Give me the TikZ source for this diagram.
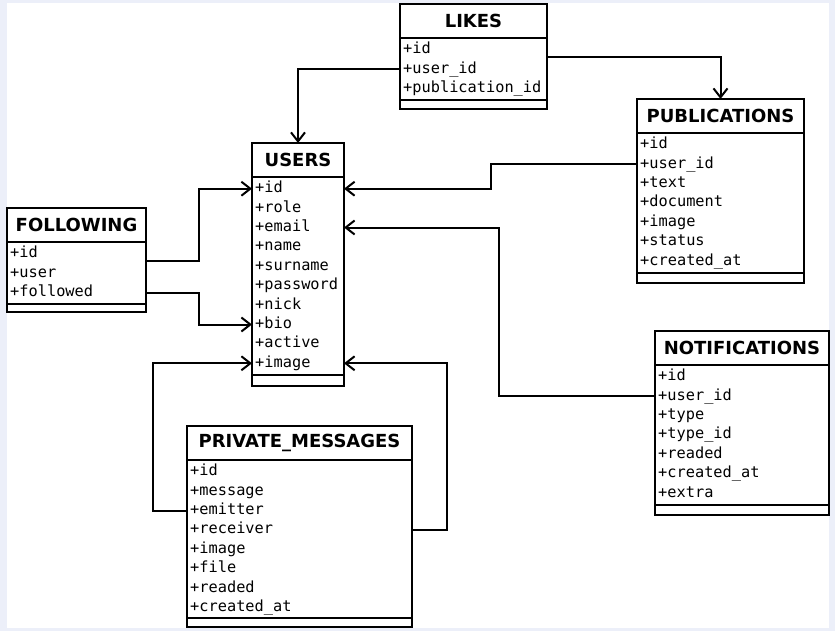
\documentclass[tikz,border=0pt]{standalone}
\usepackage{fontspec}
\usetikzlibrary{arrows.meta}
\newfontfamily\attrfont{DejaVu Sans Mono}
\newfontfamily\headfont{DejaVu Sans}
\definecolor{erframe}{RGB}{236,239,249}

\begin{document}
\begin{tikzpicture}[x=1pt, y=-1pt,
  ent/.style={draw, line width=2pt, fill=white, inner sep=0pt, outer sep=0pt},
  head/.style={ent, minimum height=34, font=\fontsize{18}{20}\selectfont\headfont\bfseries},
  body/.style={ent, anchor=north},
  foot/.style={ent, anchor=north, minimum height=10},
  attr/.style={anchor=west, inner sep=0pt, text height=11.5pt, text depth=3.5pt, font=\fontsize{15.3}{18}\selectfont\attrfont},
  link/.style={line width=2pt, -{Straight Barb[length=9pt, width=14pt]}}]
% frame of the screenshot
\useasboundingbox (0,0) rectangle (835,631);
\fill[erframe] (0,0) rectangle (835,631);
\fill[white] (7,3) rectangle (829,628);

% LIKES
\node[head, minimum width=147, anchor=north west] (likes) at (400,4) {LIKES};
\node[body, minimum width=147, minimum height=62] (likes-body) at (likes.south) {};
\node[foot, minimum width=147, minimum height=9] (likes-foot) at (likes-body.south) {};
\foreach \a [count=\i] in {id,user\_id,publication\_id}
  \node[attr] (likes-\i) at ([xshift=3, yshift={-2-19.4*(\i-0.5)}]likes-body.north west) {+\a};

% USERS
\node[head, minimum width=92, anchor=north west] (users) at (252,143) {USERS};
\node[body, minimum width=92, minimum height=198] (users-body) at (users.south) {};
\node[foot, minimum width=92, minimum height=11] (users-foot) at (users-body.south) {};
\foreach \a [count=\i] in {id,role,email,name,surname,password,nick,bio,active,image}
  \node[attr] (users-\i) at ([xshift=3, yshift={-2-19.4*(\i-0.5)}]users-body.north west) {+\a};

% FOLLOWING
\node[head, minimum width=139, anchor=north west] (following) at (7,208) {FOLLOWING};
\node[body, minimum width=139, minimum height=62] (following-body) at (following.south) {};
\node[foot, minimum width=139, minimum height=8] (following-foot) at (following-body.south) {};
\foreach \a [count=\i] in {id,user,followed}
  \node[attr] (following-\i) at ([xshift=3, yshift={-2-19.4*(\i-0.5)}]following-body.north west) {+\a};

% PUBLICATIONS
\node[head, minimum width=167, anchor=north west] (publications) at (637,99) {PUBLICATIONS};
\node[body, minimum width=167, minimum height=140] (publications-body) at (publications.south) {};
\node[foot, minimum width=167] (publications-foot) at (publications-body.south) {};
\foreach \a [count=\i] in {id,user\_id,text,document,image,status,created\_at}
  \node[attr] (publications-\i) at ([xshift=3, yshift={-2-19.4*(\i-0.5)}]publications-body.north west) {+\a};

% NOTIFICATIONS
\node[head, minimum width=174, anchor=north west] (notifications) at (655,331) {NOTIFICATIONS};
\node[body, minimum width=174, minimum height=140] (notifications-body) at (notifications.south) {};
\node[foot, minimum width=174] (notifications-foot) at (notifications-body.south) {};
\foreach \a [count=\i] in {id,user\_id,type,type\_id,readed,created\_at,extra}
  \node[attr] (notifications-\i) at ([xshift=3, yshift={-2-19.4*(\i-0.5)}]notifications-body.north west) {+\a};

% PRIVATE_MESSAGES
\node[head, minimum width=225, anchor=north west] (messages) at (187,426) {PRIVATE\_MESSAGES};
\node[body, minimum width=225, minimum height=158] (messages-body) at (messages.south) {};
\node[foot, minimum width=225, minimum height=9] (messages-foot) at (messages-body.south) {};
\foreach \a [count=\i] in {id,message,emitter,receiver,image,file,readed,created\_at}
  \node[attr] (messages-\i) at ([xshift=3, yshift={-2-19.4*(\i-0.5)}]messages-body.north west) {+\a};

% relations
\draw[link] (likes-body.west |- likes-2) -| (users.north);
\draw[link] ([yshift=-19]likes-body.north east) -| (publications.north);
\draw[link] (publications-body.west |- publications-2) -- ++(-146,0) |- (users-body.east |- users-1);
\draw[link] (notifications-body.west |- notifications-2) -- ++(-156,0) |- (users-body.east |- users-3);
\draw[link] ([yshift=-19]following-body.north east) -- ++(53,0) |- (users-body.west |- users-1);
\draw[link] (following-body.east |- following-3) -- ++(53,0) |- (users-body.west |- users-8);
\draw[link] (messages-body.west |- messages-3) -- ++(-34,0) |- (users-body.west |- users-10);
\draw[link] (messages-body.east |- messages-4) -- ++(35,0) |- (users-body.east |- users-10);
\end{tikzpicture}
\end{document}
